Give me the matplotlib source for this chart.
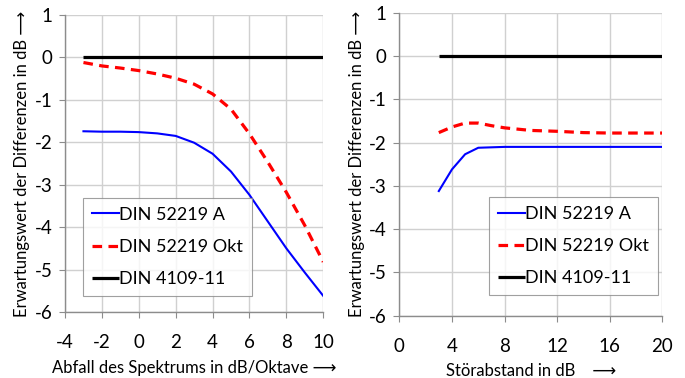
import matplotlib
matplotlib.use("Agg")
import matplotlib.pyplot as plt

plt.rcParams['font.family'] = ['Lato', 'DejaVu Sans']

# Left chart: slope of spectrum
x_left = [-3, -2, -1, 0, 1, 2, 3, 4, 5, 6, 7, 8, 9, 10]
a_left = [-1.74, -1.75, -1.75, -1.76, -1.79, -1.85, -2.01, -2.27, -2.69, -3.24, -3.87, -4.50, -5.07, -5.62]
okt_left = [-0.12, -0.20, -0.25, -0.31, -0.39, -0.49, -0.63, -0.86, -1.22, -1.80, -2.47, -3.18, -3.96, -4.82]
din4109_left = [0] * len(x_left)

# Right chart: signal-to-noise ratio
x_right = [3, 4, 5, 6, 7, 8, 10, 12, 14, 16, 18, 20]
a_right = [-3.12, -2.62, -2.27, -2.12, -2.11, -2.10, -2.10, -2.10, -2.10, -2.10, -2.10, -2.10]
okt_right = [-1.77, -1.64, -1.55, -1.55, -1.61, -1.66, -1.72, -1.74, -1.77, -1.78, -1.78, -1.78]
din4109_right = [0] * len(x_right)

labels = ["DIN 52219 A", "DIN 52219 Okt", "DIN 4109-11"]
ylabel = "Erwartungswert der Differenzen in dB \u27f6"
yticks = [1, 0, -1, -2, -3, -4, -5, -6]

fig = plt.figure(figsize=(6.85, 3.78), dpi=100)
ax1 = fig.add_axes([0.0949, 0.1746, 0.377, 0.7857])
ax2 = fig.add_axes([0.583, 0.1648, 0.384, 0.8016])

grid_c = "#d0d0d0"
spine_c = "#8c8c8c"

def style(ax, xlim, xticks):
    ax.set_xlim(*xlim)
    ax.set_ylim(-6, 1)
    ax.set_xticks(xticks)
    ax.set_yticks(yticks)
    ax.set_yticklabels([str(v) for v in yticks])
    ax.set_xticklabels([str(v) for v in xticks])
    ax.grid(True, color=grid_c, linewidth=1.0)
    ax.set_axisbelow(True)
    for s in ["top", "right"]:
        ax.spines[s].set_visible(False)
    for s in ["left", "bottom"]:
        ax.spines[s].set_color(spine_c)
        ax.spines[s].set_linewidth(1.0)
    ax.tick_params(axis="both", direction="out", length=4, color=spine_c,
                   labelsize=13.5)
    ax.tick_params(axis="x", pad=12)
    ax.tick_params(axis="y", pad=5)
    ax.set_ylabel(ylabel, fontsize=12, labelpad=3)

def draw(ax, x, a, o, d, loc_bbox):
    ax.plot(x, a, color="#0000ff", linewidth=1.5, label=labels[0])
    ax.plot(x, o, color="#ff0000", linewidth=2.3, dashes=(3.0, 2.0), label=labels[1])
    ax.plot(x, d, color="black", linewidth=2.3, label=labels[2], solid_capstyle="butt")
    leg = ax.legend(loc="upper left", bbox_to_anchor=loc_bbox, fontsize=13,
                    frameon=True, fancybox=False, edgecolor="#888888",
                    handlelength=1.5, handletextpad=0.0, labelspacing=0.9,
                    borderpad=0.5, borderaxespad=0)
    leg.get_frame().set_linewidth(0.8)

style(ax1, (-4, 10), [-4, -2, 0, 2, 4, 6, 8, 10])
draw(ax1, x_left, a_left, okt_left, din4109_left, (0.07, 0.385))
ax1.set_xlabel("Abfall des Spektrums in dB/Oktave \u27f6", fontsize=12, labelpad=6)

style(ax2, (0, 20), [0, 4, 8, 12, 16, 20])
draw(ax2, x_right, a_right, okt_right, din4109_right, (0.34, 0.392))
ax2.set_xlabel("St\u00f6rabstand in dB    \u27f6", fontsize=12, labelpad=6)

fig.savefig("out.png", dpi=100)
